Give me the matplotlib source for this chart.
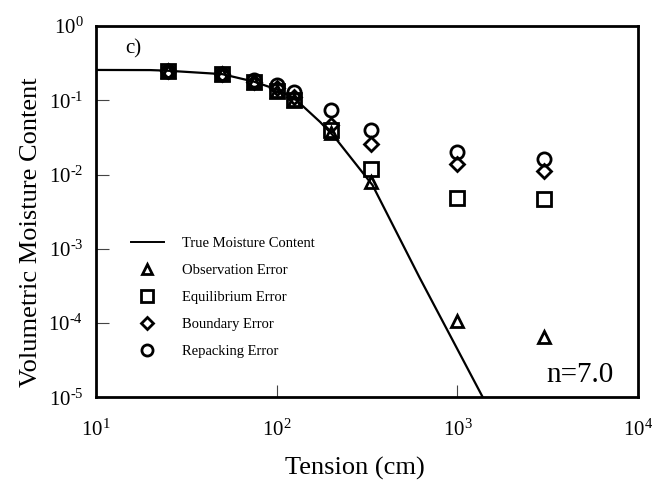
import matplotlib
matplotlib.use("Agg")
import matplotlib.pyplot as plt
from matplotlib.lines import Line2D

plt.rcParams["font.family"] = ["Liberation Serif", "DejaVu Serif"]
plt.rcParams["mathtext.fontset"] = "custom"
plt.rcParams["mathtext.rm"] = "Liberation Serif"
plt.rcParams["mathtext.it"] = "Liberation Serif:italic"

# True moisture content curve (tension in cm, volumetric moisture content)
curve_tension = [10, 20, 25, 50, 75, 100, 125, 174, 209, 339, 617, 1380]
curve_theta = [0.256, 0.255, 0.25, 0.225, 0.178, 0.14, 0.107, 0.051, 0.032,
               0.0072, 4.1e-4, 1.0e-5]

# Measured tensions and moisture content under each error type
tension = [25, 50, 75, 100, 125, 200, 333, 1000, 3000]
observation_err = [0.25, 0.225, 0.175, 0.135, 0.1, 0.036, 0.0079, 1.05e-4, 6.5e-5]
equilibrium_err = [0.25, 0.225, 0.175, 0.135, 0.1, 0.04, 0.012, 0.0048, 0.0047]
boundary_err = [0.25, 0.225, 0.178, 0.145, 0.11, 0.046, 0.026, 0.014, 0.011]
repacking_err = [0.25, 0.228, 0.185, 0.16, 0.13, 0.074, 0.04, 0.02, 0.016]

x_ticks = [1e1, 1e2, 1e3, 1e4]
x_tick_labels = [r"$10^{1}$", r"$10^{2}$", r"$10^{3}$", r"$10^{4}$"]
y_ticks = [1e-5, 1e-4, 1e-3, 1e-2, 1e-1, 1e0]
y_tick_labels = ["$10^{\u2010" + e + "}$" for e in ["5", "4", "3", "2", "1"]] + [r"$10^{0}$"]

fig = plt.figure(figsize=(6.56, 4.91), dpi=100)
ax = fig.add_axes([0.146, 0.191, 0.827, 0.756])

ax.plot(curve_tension, curve_theta, color="black", lw=1.6, zorder=3)

mk = dict(linestyle="none", markerfacecolor="none", markeredgecolor="black",
          markeredgewidth=2.0, zorder=4)
ax.plot(tension, observation_err, marker="^", markersize=8, **mk)
ax.plot(tension, equilibrium_err, marker="s", markersize=9.5, **mk)
ax.plot(tension, boundary_err, marker="D", markersize=7, **mk)
ax.plot(tension, repacking_err, marker="o", markersize=9.5, **mk)

ax.set_xscale("log")
ax.set_yscale("log")
ax.set_xlim(1e1, 1e4)
ax.set_ylim(1e-5, 1e0)
ax.set_xticks(x_ticks)
ax.set_xticklabels(x_tick_labels)
ax.set_yticks(y_ticks)
ax.set_yticklabels(y_tick_labels)
ax.minorticks_off()
ax.tick_params(direction="in", length=9, width=0.8, color="#444444",
               labelsize=15)
ax.tick_params(axis="x", pad=16)
ax.tick_params(axis="y", pad=9)
for s in ax.spines.values():
    s.set_linewidth(2.0)

ax.set_xlabel("Tension (cm)", fontsize=19)
ax.set_ylabel("Volumetric Moisture Content", fontsize=19)
ax.xaxis.set_label_coords(0.478, -0.16)
ax.yaxis.set_label_coords(-0.10, 0.445)

ax.text(0.055, 0.965, "c)", transform=ax.transAxes, fontsize=15,
        ha="left", va="top")
ax.text(0.954, 0.04, "n=7.0", transform=ax.transAxes, fontsize=21,
        ha="right", va="baseline")

handles = [
    Line2D([], [], color="black", lw=1.4),
    Line2D([], [], marker="^", markersize=7, **mk),
    Line2D([], [], marker="s", markersize=8, **mk),
    Line2D([], [], marker="D", markersize=6, **mk),
    Line2D([], [], marker="o", markersize=8, **mk),
]
labels = ["True Moisture Content", "Observation Error", "Equilibrium Error",
          "Boundary Error", "Repacking Error"]
ax.legend(handles, labels, loc="lower left", bbox_to_anchor=(0.055, 0.09),
          frameon=False, fontsize=10.5, handlelength=2.2, labelspacing=0.95,
          handletextpad=1.3, borderaxespad=0)

fig.savefig("out.png", dpi=100)
